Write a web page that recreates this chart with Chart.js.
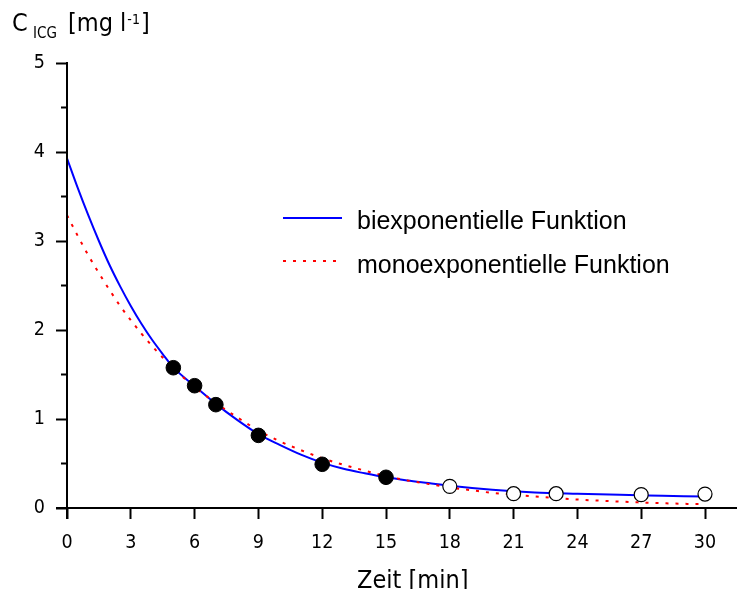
<!DOCTYPE html>
<html><head><meta charset="utf-8">
<script src="https://cdn.jsdelivr.net/npm/chart.js@4"></script>
<style>html,body{margin:0;padding:0;background:#fff}canvas{display:block}</style>
</head><body>
<canvas id="c" width="737" height="589"></canvas>
<script>
// ---- data ----
const biTime  = [0, 0.5, 1, 1.5, 2, 2.5, 3, 3.5, 4, 4.5, 5, 6, 7, 8, 9, 10, 11, 12, 13, 14, 15, 16, 17, 18, 20, 22, 24, 26, 28, 30];
const biConc  = [3.93, 3.60, 3.29, 3.00, 2.73, 2.49, 2.27, 2.07, 1.89, 1.73, 1.58, 1.37, 1.17, 0.99, 0.83, 0.71, 0.60, 0.51, 0.44, 0.39, 0.345, 0.31, 0.28, 0.25, 0.205, 0.175, 0.16, 0.148, 0.138, 0.128];
const monoTime = [0, 0.5, 1, 1.5, 2, 2.5, 3, 3.5, 4, 4.5, 5, 6, 7, 8, 9, 10, 11, 12, 13, 14, 15, 16, 17, 18, 19, 20, 21, 22, 23, 24, 25, 26, 27, 28, 29, 30];
const monoConc = [3.29, 3.06, 2.84, 2.64, 2.45, 2.27, 2.11, 1.96, 1.82, 1.69, 1.57, 1.36, 1.18, 1.02, 0.87, 0.75, 0.65, 0.56, 0.485, 0.42, 0.36, 0.31, 0.27, 0.23, 0.20, 0.17, 0.15, 0.13, 0.11, 0.095, 0.083, 0.072, 0.062, 0.054, 0.047, 0.043];
const filledTime = [5, 6, 7, 9, 12, 15];
const filledConc = [1.576, 1.374, 1.161, 0.816, 0.491, 0.345];
const openTime = [18, 21, 23, 27, 30];
const openConc = [0.243, 0.161, 0.161, 0.150, 0.157];
const xTicks = [0, 3, 6, 9, 12, 15, 18, 21, 24, 27, 30];
const yTicks = [0, 1, 2, 3, 4, 5];
const yMinorTicks = [0.5, 1.5, 2.5, 3.5, 4.5];
const seriesLabels = ['biexponentielle Funktion', 'monoexponentielle Funktion'];
const xTitle = 'Zeit [min]';
const yTitleMain = 'C', yTitleSub = 'ICG', yTitleUnit = '[mg l', yTitleSup = '-1', yTitleEnd = ']';

const pts = (ts, vs) => ts.map((t, i) => ({x: t, y: vs[i]}));
const COND = '"DejaVu Sans Condensed", "DejaVu Sans", sans-serif';

const decor = {
  id: 'decor',
  afterDraw(chart) {
    const {ctx, chartArea: a, scales: {x, y}} = chart;
    const x0 = x.getPixelForValue(0), y0 = y.getPixelForValue(0);
    ctx.save();
    ctx.strokeStyle = '#000';
    ctx.lineWidth = 2;
    ctx.beginPath();
    ctx.moveTo(56, y0); ctx.lineTo(737, y0);
    ctx.moveTo(x0, a.top - 1); ctx.lineTo(x0, y0 + 11);
    yMinorTicks.forEach(v => { const p = y.getPixelForValue(v); ctx.moveTo(x0 - 6, p); ctx.lineTo(x0, p); });
    ctx.stroke();

    // y title
    ctx.fillStyle = '#000';
    ctx.textBaseline = 'alphabetic';
    ctx.textAlign = 'left';
    ctx.font = '25px ' + COND;
    ctx.fillText(yTitleMain, 12, 31);
    ctx.font = '15px ' + COND;
    ctx.fillText(yTitleSub, 33, 38);
    ctx.font = '25px ' + COND;
    ctx.fillText(yTitleUnit, 68, 31);
    let xp = 68 + ctx.measureText(yTitleUnit).width + 1;
    ctx.font = '14px ' + COND;
    ctx.fillText(yTitleSup, xp, 24);
    xp += ctx.measureText(yTitleSup).width + 1;
    ctx.font = '25px ' + COND;
    ctx.fillText(yTitleEnd, xp, 31);

    // x title
    ctx.fillText(xTitle, 357, 588);

    // legend
    const ds = chart.data.datasets;
    const rows = [{ly: 218, ty: 229, x2: 342}, {ly: 261, ty: 273, x2: 338}];
    rows.forEach((r, i) => {
      ctx.save();
      ctx.strokeStyle = ds[i].borderColor;
      ctx.lineWidth = ds[i].borderWidth;
      ctx.setLineDash(ds[i].borderDash || []);
      ctx.beginPath();
      ctx.moveTo(283, r.ly); ctx.lineTo(r.x2, r.ly);
      ctx.stroke();
      ctx.restore();
      ctx.font = '25px "Liberation Sans"';
      ctx.fillStyle = '#000';
      ctx.fillText(ds[i].label, 357, r.ty);
    });
    ctx.restore();
  }
};

new Chart(document.getElementById('c'), {
  type: 'scatter',
  data: {
    datasets: [
      {label: seriesLabels[0], data: pts(biTime, biConc), showLine: true, borderColor: '#0000ff', borderWidth: 2,
       pointRadius: 0, cubicInterpolationMode: 'monotone', order: 3},
      {label: seriesLabels[1], data: pts(monoTime, monoConc), showLine: true, borderColor: '#ff0000', borderWidth: 2,
       borderDash: [3, 7], pointRadius: 0, cubicInterpolationMode: 'monotone', order: 2},
      {label: 'Messwerte', data: pts(filledTime, filledConc), showLine: false, pointRadius: 7.3,
       backgroundColor: '#000', borderColor: '#000', borderWidth: 1, clip: false, order: 1},
      {label: 'Messwerte offen', data: pts(openTime, openConc), showLine: false, pointRadius: 7,
       backgroundColor: '#fff', borderColor: '#000', borderWidth: 1.2, clip: false, order: 0}
    ]
  },
  options: {
    responsive: false, animation: false, devicePixelRatio: 1,
    layout: {padding: {top: 63, right: 32, left: 0, bottom: 0}},
    plugins: {legend: {display: false}, tooltip: {enabled: false}},
    scales: {
      x: {
        type: 'linear', min: 0, max: 30,
        afterFit(s) { s.height = 81; },
        afterBuildTicks(s) { s.ticks = xTicks.map(v => ({value: v})); },
        ticks: {font: {family: COND, size: 19.5}, color: '#000', padding: 12, maxRotation: 0, autoSkip: false},
        grid: {drawOnChartArea: false, drawTicks: true, tickLength: 11, tickColor: '#000', tickWidth: 2},
        border: {display: true, color: '#000', width: 2}
      },
      y: {
        type: 'linear', min: 0, max: 5,
        afterFit(s) { s.width = 67; },
        afterBuildTicks(s) { s.ticks = yTicks.concat(yMinorTicks).sort((p, q) => p - q).map(v => ({value: v})); },
        ticks: {font: {family: COND, size: 19.5}, color: '#000', padding: 11, autoSkip: false,
                callback: v => yTicks.includes(v) ? String(v) : ''},
        grid: {drawOnChartArea: false, drawTicks: true, tickLength: 11, tickWidth: 2,
               tickColor: c => (c.tick && yTicks.includes(c.tick.value)) ? '#000' : 'rgba(0,0,0,0)'},
        border: {display: true, color: '#000', width: 2}
      }
    }
  },
  plugins: [decor]
});
</script>
</body></html>
